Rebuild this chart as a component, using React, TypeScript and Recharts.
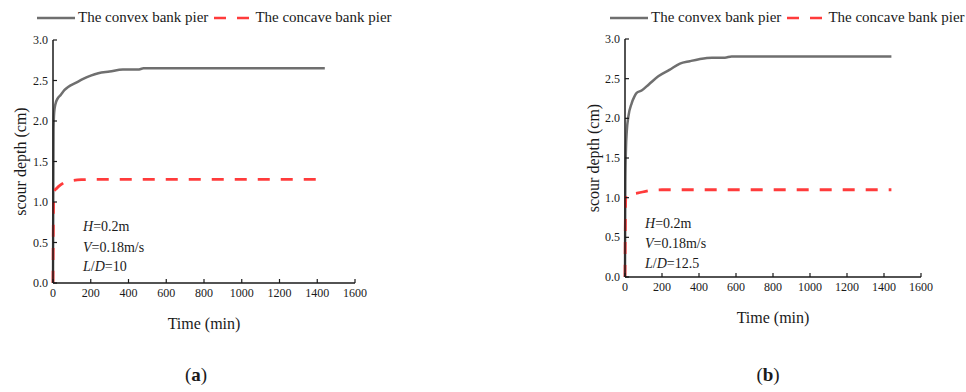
import { LineChart, Line, XAxis, YAxis } from "recharts";

const xTicks = [0, 200, 400, 600, 800, 1000, 1200, 1400, 1600];
const yTicks = [0, 0.5, 1.0, 1.5, 2.0, 2.5, 3.0];

// panel (a), L/D = 10
const convexTimeA = [0, 3, 6, 12, 25, 40, 60, 80, 120, 160, 200, 240, 300, 370, 450, 480, 800, 1200, 1440];
const convexDepthA = [0, 1.9, 2.1, 2.2, 2.28, 2.32, 2.38, 2.42, 2.47, 2.52, 2.56, 2.59, 2.61, 2.635, 2.635, 2.65, 2.65, 2.65, 2.65];
const concaveTimeA = [0, 3, 6, 20, 40, 70, 150, 250, 800, 1440];
const concaveDepthA = [0, 1.0, 1.13, 1.17, 1.21, 1.25, 1.275, 1.28, 1.28, 1.28];

// panel (b), L/D = 12.5
const convexTimeB = [0, 2, 5, 10, 18, 36, 50, 63, 90, 130, 180, 240, 297, 350, 400, 470, 540, 576, 900, 1440];
const convexDepthB = [0, 1.2, 1.6, 1.85, 2.02, 2.19, 2.27, 2.32, 2.35, 2.43, 2.53, 2.61, 2.69, 2.72, 2.745, 2.765, 2.765, 2.78, 2.78, 2.78];
const concaveTimeB = [0, 3, 5, 72, 135, 200, 800, 1440];
const concaveDepthB = [0, 0.9, 1.03, 1.06, 1.09, 1.1, 1.1, 1.1];

const FONT = "'Liberation Serif', 'Times New Roman', serif";
const GRAY = "#6f6f6f";
const RED = "#ff3b3b";
const INK = "#1a1a1a";

const toRows = (ts: number[], vs: number[]) => ts.map((t, i) => ({ t, v: vs[i] }));

const XTick = (props: any) => {
  const { x, y, payload } = props;
  return (
    <g>
      <line x1={x} y1={y} x2={x} y2={y - 4} stroke={INK} strokeWidth={1.2} />
      <text x={x} y={y + 14} textAnchor="middle" fontFamily={FONT} fontSize={12} fill={INK}>
        {payload.value}
      </text>
    </g>
  );
};

const YTick = (props: any) => {
  const { x, y, payload } = props;
  return (
    <g>
      <line x1={x} y1={y} x2={x + 4} y2={y} stroke={INK} strokeWidth={1.2} />
      <text x={x - 5} y={y + 4} textAnchor="end" fontFamily={FONT} fontSize={12} fill={INK}>
        {Number(payload.value).toFixed(1)}
      </text>
    </g>
  );
};

type PanelProps = {
  left: number;
  yAxisWidth: number;
  margin: { top: number; right: number; bottom: number; left: number };
  convex: { t: number; v: number }[];
  concave: { t: number; v: number }[];
  ylabelX: number;
  ratio: string;
  noteX: number;
  noteY: number[];
  legendX: number;
  tag: string;
  tagX: number;
};

const Panel = (p: PanelProps) => {
  const plotTop = p.margin.top;
  const plotBottom = 340 - p.margin.bottom - 50;
  const midY = (plotTop + plotBottom) / 2;
  const note = { position: "absolute" as const, left: p.left + p.noteX, fontFamily: FONT, fontSize: 14, color: INK, lineHeight: "16px", whiteSpace: "nowrap" as const };
  return (
    <>
      <div style={{ position: "absolute", left: p.left + p.legendX, top: 9, display: "flex", alignItems: "center", fontFamily: FONT, fontSize: 15, color: INK, whiteSpace: "nowrap" }}>
        <svg width={38} height={6}><line x1={0} y1={3} x2={38} y2={3} stroke={GRAY} strokeWidth={2.5} /></svg>
        <span style={{ marginLeft: 3 }}>The convex bank pier</span>
        <svg width={36} height={6} style={{ marginLeft: 6 }}><line x1={0} y1={3} x2={36} y2={3} stroke={RED} strokeWidth={2.5} strokeDasharray="12 11" /></svg>
        <span style={{ marginLeft: 5 }}>The concave bank pier</span>
      </div>
      <div style={{ position: "absolute", left: p.left, top: 0 }}>
        <LineChart width={400} height={340} margin={p.margin}>
          <XAxis
            type="number"
            dataKey="t"
            domain={[0, 1600]}
            ticks={xTicks}
            height={50}
            tickSize={0}
            tickMargin={0}
            tickLine={false}
            axisLine={{ stroke: INK, strokeWidth: 1.5 }}
            tick={<XTick />}
            label={{ value: "Time (min)", position: "insideBottom", offset: 4, fontFamily: FONT, fontSize: 16, fill: INK }}
          />
          <YAxis
            type="number"
            domain={[0, 3]}
            ticks={yTicks}
            width={p.yAxisWidth}
            tickSize={0}
            tickMargin={0}
            tickLine={false}
            axisLine={{ stroke: INK, strokeWidth: 1.5 }}
            tick={<YTick />}
            label={() => (
              <text
                x={p.ylabelX}
                y={midY}
                transform={`rotate(-90 ${p.ylabelX} ${midY})`}
                textAnchor="middle"
                dominantBaseline="central"
                fontFamily={FONT}
                fontSize={16}
                fill={INK}
              >
                scour depth (cm)
              </text>
            )}
          />
          <Line data={p.convex} dataKey="v" type="monotone" stroke={GRAY} strokeWidth={2.5} dot={false} isAnimationActive={false} />
          <Line data={p.concave} dataKey="v" type="monotone" stroke={RED} strokeWidth={2.8} strokeDasharray="12 11" dot={false} isAnimationActive={false} />
        </LineChart>
      </div>
      <div style={{ ...note, top: p.noteY[0] - 8 }}><i>H</i>=0.2m</div>
      <div style={{ ...note, top: p.noteY[1] - 8 }}><i>V</i>=0.18m/s</div>
      <div style={{ ...note, top: p.noteY[2] - 8 }}><i>L</i>/<i>D</i>={p.ratio}</div>
      <div style={{ position: "absolute", left: p.left + p.tagX - 30, width: 60, top: 364, textAlign: "center", fontFamily: FONT, fontSize: 19, color: INK }}>
        (<b>{p.tag}</b>)
      </div>
    </>
  );
};

export default function App() {
  return (
    <div style={{ position: "absolute", left: 0, top: 0, width: 966, height: 392, background: "#fff", overflow: "hidden" }}>
      <Panel
        left={0}
        yAxisWidth={53}
        margin={{ top: 40, right: 45, bottom: 7, left: 0 }}
        convex={toRows(convexTimeA, convexDepthA)}
        concave={toRows(concaveTimeA, concaveDepthA)}
        ylabelX={20}
        ratio="10"
        noteX={83}
        noteY={[227, 248, 267]}
        legendX={37}
        tag="a"
        tagX={196}
      />
      <Panel
        left={560}
        yAxisWidth={65}
        margin={{ top: 39, right: 39, bottom: 13, left: 0 }}
        convex={toRows(convexTimeB, convexDepthB)}
        concave={toRows(concaveTimeB, concaveDepthB)}
        ylabelX={33}
        ratio="12.5"
        noteX={85}
        noteY={[224, 244, 264]}
        legendX={50}
        tag="b"
        tagX={208}
      />
    </div>
  );
}
